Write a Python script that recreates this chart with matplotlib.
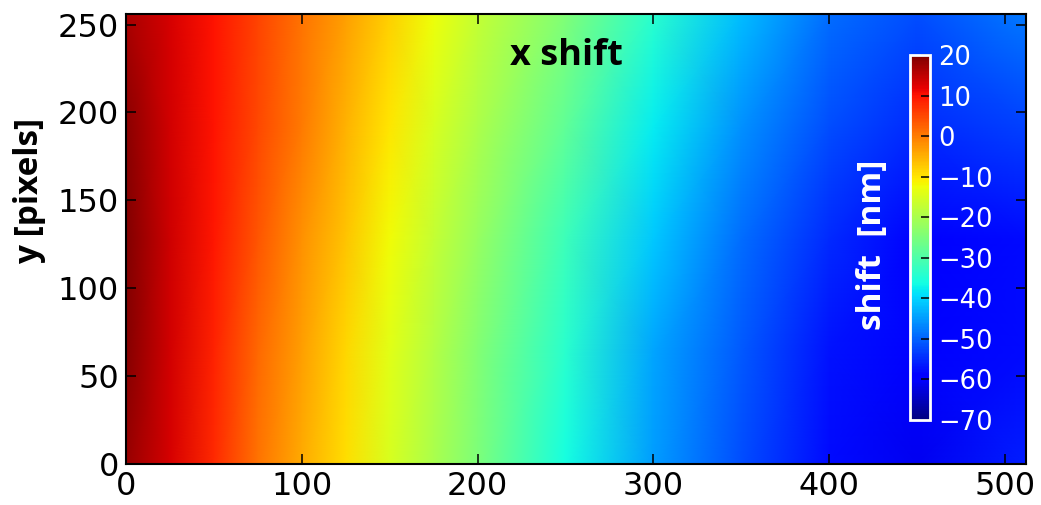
import numpy as np
import matplotlib
matplotlib.use('Agg')
import matplotlib.pyplot as plt

# sample points of the x-shift map (pixel coordinates)
x_px = [0, 25, 50, 75, 100, 125, 150, 175, 200, 250, 300, 350, 400, 450, 512]
y_px = [0, 64, 128, 192, 256]

# shift in nm, one list per row (bottom to top)
row_y0 = [18, 13, 8, 1, -4.5, -9.5, -15, -20, -25, -36, -45, -52, -58, -61, -56]
row_y64 = [19.5, 13.5, 8.5, 2, -3.5, -8.5, -14, -19, -24, -34, -44, -51, -57, -60, -58]
row_y128 = [20, 14, 9.5, 3.5, -2, -7, -12, -17, -22, -32, -41, -49, -55, -59, -58]
row_y192 = [19, 13.5, 10, 5, 0, -5, -10, -15, -19.5, -28, -38, -46, -52, -55, -53]
row_y256 = [16.5, 13, 10, 5.5, 1, -3.5, -8, -12.5, -17, -24.5, -34, -42, -49, -52, -48]

cbar_ticks = [20, 10, 0, -10, -20, -30, -40, -50, -60, -70]
x_ticks = [0, 100, 200, 300, 400, 500]
y_ticks = [0, 50, 100, 150, 200, 250]

shift = np.array([row_y0, row_y64, row_y128, row_y192, row_y256])

W, H = 1041, 505
fig = plt.figure(figsize=(W / 100, H / 100), dpi=100)
ax = fig.add_axes([126 / W, 1 - 464 / H, 900 / W, 450 / H])

mesh = ax.pcolormesh(x_px, y_px, shift, shading='gouraud', cmap='jet',
                     vmin=-70, vmax=20)
ax.set_xlim(0, 512)
ax.set_ylim(0, 256)
ax.set_xticks(x_ticks)
ax.set_yticks(y_ticks)
ax.tick_params(direction='in', length=7, width=1.1, labelsize=23, pad=5,
               top=True, right=True)
for sp in ax.spines.values():
    sp.set_linewidth(1.5)

# colorbar inside the plot
cax = fig.add_axes([910 / W, 1 - 420 / H, 20 / W, 365 / H])
cb = fig.colorbar(mesh, cax=cax, ticks=cbar_ticks)
cb.outline.set_edgecolor('white')
cb.outline.set_linewidth(2)
cax.tick_params(direction='in', length=6.5, width=1.1, color='black',
                labelcolor='white', labelsize=18.5, pad=6)

bold = dict(family='Open Sans', weight='bold')
fig.text(566 / W, 1 - 65 / H, 'x shift', ha='center', va='baseline',
         fontsize=26, **bold)
fig.text(30 / W, 1 - 191 / H, 'y [pixels]', ha='center', va='center',
         rotation=90, fontsize=24, **bold)
fig.text(873 / W, 1 - 245 / H, 'shift  [nm]', ha='center', va='center',
         rotation=90, fontsize=24, color='white', **bold)

fig.savefig('out.png', dpi=100)
